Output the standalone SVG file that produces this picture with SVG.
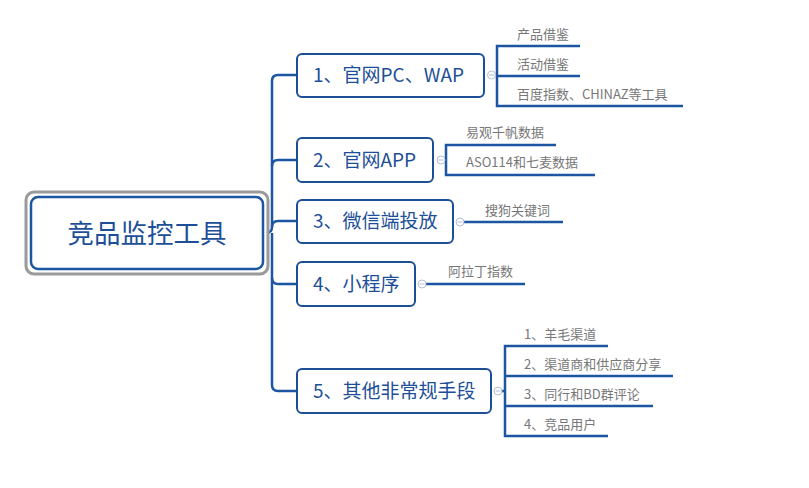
<svg xmlns="http://www.w3.org/2000/svg" width="809" height="488" viewBox="0 0 809 488">
<style>
.ln{fill:none;stroke:#1c56a3;stroke-width:2.5;stroke-linecap:butt}
.box{fill:#fff;stroke:#1c4f96;stroke-width:2}
.nt{font-family:"Microsoft YaHei","Noto Sans CJK SC",sans-serif;font-size:19px;fill:#1d4f98}
.st{font-family:"Microsoft YaHei","Noto Sans CJK SC",sans-serif;font-size:13px;fill:#777}
.cc{fill:#fff;stroke:#b4bfd6;stroke-width:1}
.cm{stroke:#b4bfd6;stroke-width:1}
</style>
<rect width="809" height="488" fill="#fff"/>
<g id="connectors">
<path class="ln" d="M263,233 H266 Q272,233 272,227 V81 Q272,75 278,75 H297"/>
<path class="ln" d="M272,166 Q272,160 278,160 H297"/>
<path class="ln" d="M272,227 Q272,221 278,221 H297"/>
<path class="ln" d="M272,233 V278 Q272,284 278,284 H297"/>
<path class="ln" d="M272,278 V385 Q272,391 278,391 H297"/>
<path class="ln" d="M488,75 H497 M580,46 H497 V106 H683 M497,76 H580"/>
<path class="ln" d="M437,160 H446 M556,145 H446 V175 H595"/>
<path class="ln" d="M456,222 H563"/>
<path class="ln" d="M418,284 H525"/>
<path class="ln" d="M494,391 H505 M608,346 H505 V436 H608 M505,376 H673 M505,406 H653"/>
</g>
<g id="root">
<rect x="26" y="192" width="242" height="82" rx="8" fill="#fff" stroke="#9a9a9a" stroke-width="3"/>
<rect x="31" y="197" width="232" height="72" rx="7" fill="#fff" stroke="#1c56a3" stroke-width="2.5"/>
<text x="147" y="243" text-anchor="middle" font-family="Microsoft YaHei,Noto Sans CJK SC,sans-serif" font-size="26.5" fill="#1d4f98">竞品监控工具</text>
</g>
<g id="n1">
<rect class="box" x="297" y="54" width="187" height="43" rx="5"/>
<text class="nt" x="313" y="82">1、官网PC、WAP</text>
<circle class="cc" cx="491.5" cy="75" r="4"/><path class="cm" d="M489,75 H494"/>
</g>
<g id="n1a"><text class="st" x="517" y="39">产品借鉴</text></g>
<g id="n1b"><text class="st" x="517" y="69">活动借鉴</text></g>
<g id="n1c"><text class="st" x="517" y="99">百度指数、CHINAZ等工具</text></g>
<g id="n2">
<rect class="box" x="297" y="138" width="136" height="44" rx="5"/>
<text class="nt" x="313" y="167">2、官网APP</text>
<circle class="cc" cx="441" cy="160" r="4"/><path class="cm" d="M438.5,160 H443.5"/>
</g>
<g id="n2a"><text class="st" x="466" y="137">易观千帆数据</text></g>
<g id="n2b"><text class="st" x="466" y="167">ASO114和七麦数据</text></g>
<g id="n3">
<rect class="box" x="297" y="200" width="156" height="43" rx="5"/>
<text class="nt" x="313" y="228">3、微信端投放</text>
<circle class="cc" cx="460" cy="222" r="4"/><path class="cm" d="M457.5,222 H462.5"/>
</g>
<g id="n3a"><text class="st" x="485" y="215">搜狗关键词</text></g>
<g id="n4">
<rect class="box" x="297" y="262" width="118" height="44" rx="5"/>
<text class="nt" x="313" y="291">4、小程序</text>
<circle class="cc" cx="422" cy="284" r="4"/><path class="cm" d="M419.5,284 H424.5"/>
</g>
<g id="n4a"><text class="st" x="448" y="276">阿拉丁指数</text></g>
<g id="n5">
<rect class="box" x="297" y="369" width="194" height="44" rx="5"/>
<text class="nt" x="313" y="398">5、其他非常规手段</text>
<circle class="cc" cx="498" cy="391" r="4"/><path class="cm" d="M495.5,391 H500.5"/>
</g>
<g id="n5a"><text class="st" x="524" y="339">1、羊毛渠道</text></g>
<g id="n5b"><text class="st" x="524" y="369">2、渠道商和供应商分享</text></g>
<g id="n5c"><text class="st" x="524" y="399">3、同行和BD群评论</text></g>
<g id="n5d"><text class="st" x="524" y="429">4、竞品用户</text></g>
</svg>
